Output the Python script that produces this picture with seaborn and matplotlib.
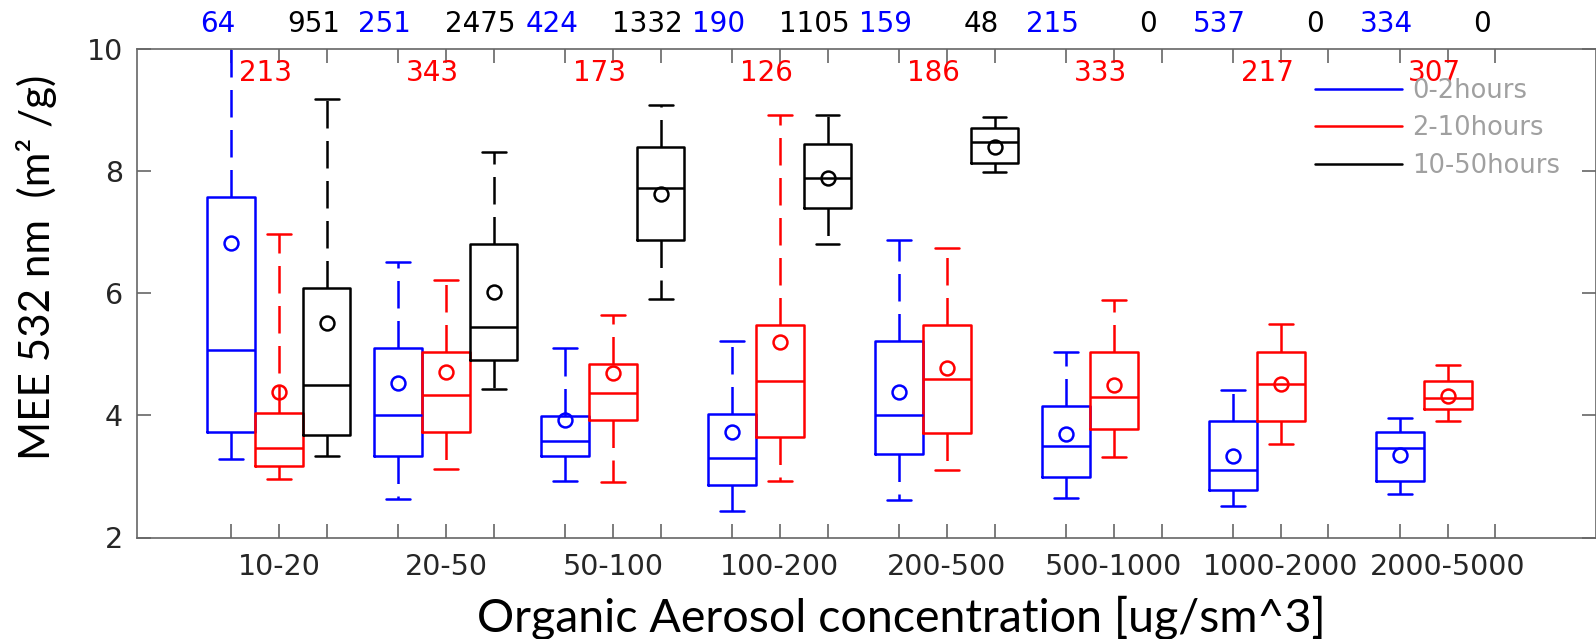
import numpy as np
import pandas as pd
import matplotlib
matplotlib.use('Agg')
import matplotlib.pyplot as plt
from matplotlib.lines import Line2D
import seaborn as sns

# Categories
bins = ["10-20", "20-50", "50-100", "100-200", "200-500", "500-1000", "1000-2000", "2000-5000"]
ages = ["0-2hours", "2-10hours", "10-50hours"]
colors = ["#0000ff", "#ff0000", "#000000"]

# Box statistics (lower whisker, q1, median, q3, upper whisker, mean)
lo_blue = [3.29, 2.63, 2.93, 2.44, 2.61, 2.64, 2.52, 2.72]
q1_blue = [3.73, 3.34, 3.34, 2.86, 3.36, 2.99, 2.77, 2.92]
med_blue = [5.07, 4.00, 3.58, 3.30, 4.00, 3.49, 3.10, 3.46]
q3_blue = [7.58, 5.11, 3.99, 4.02, 5.21, 4.16, 3.91, 3.73]
hi_blue = [10.6, 6.51, 5.10, 5.21, 6.87, 5.03, 4.42, 3.95]
mean_blue = [6.83, 4.53, 3.93, 3.72, 4.38, 3.69, 3.34, 3.35]

lo_red = [2.96, 3.12, 2.91, 2.92, 3.10, 3.31, 3.53, 3.91]
q1_red = [3.17, 3.73, 3.92, 3.64, 3.71, 3.77, 3.90, 4.11]
med_red = [3.46, 4.33, 4.36, 4.56, 4.59, 4.30, 4.51, 4.29]
q3_red = [4.04, 5.04, 4.84, 5.48, 5.48, 5.04, 5.04, 4.57]
hi_red = [6.97, 6.22, 5.64, 8.91, 6.74, 5.89, 5.49, 4.83]
mean_red = [4.38, 4.71, 4.69, 5.20, 4.77, 4.49, 4.52, 4.32]

nan = np.nan
lo_black = [3.34, 4.43, 5.90, 6.81, 7.98, nan, nan, nan]
q1_black = [3.68, 4.90, 6.87, 7.40, 8.13, nan, nan, nan]
med_black = [4.49, 5.44, 7.72, 7.88, 8.48, nan, nan, nan]
q3_black = [6.08, 6.80, 8.39, 8.44, 8.70, nan, nan, nan]
hi_black = [9.18, 8.31, 9.08, 8.92, 8.89, nan, nan, nan]
mean_black = [5.52, 6.02, 7.62, 7.88, 8.40, nan, nan, nan]

# Sample counts per box
n_blue = [64, 251, 424, 190, 159, 215, 537, 334]
n_red = [213, 343, 173, 126, 186, 333, 217, 307]
n_black = [951, 2475, 1332, 1105, 48, 0, 0, 0]

stats = {
    ages[0]: (lo_blue, q1_blue, med_blue, q3_blue, hi_blue),
    ages[1]: (lo_red, q1_red, med_red, q3_red, hi_red),
    ages[2]: (lo_black, q1_black, med_black, q3_black, hi_black),
}
means = {ages[0]: mean_blue, ages[1]: mean_red, ages[2]: mean_black}
counts = {ages[0]: n_blue, ages[1]: n_red, ages[2]: n_black}

# five summary values per box -> quartiles/whiskers come out exactly (whis=inf)
rows = []
for age, cols in stats.items():
    for i, b in enumerate(bins):
        vals = [c[i] for c in cols]
        if np.isnan(vals[0]):
            continue
        for v in vals:
            rows.append({"bin": b, "age": age, "mee": v})
df = pd.DataFrame(rows)

sns.set_theme(style="ticks")
plt.rcParams['font.family'] = ['DejaVu Sans']

W, H = 1596, 639
fig = plt.figure(figsize=(W / 100, H / 100), dpi=100)
ax = fig.add_axes([137 / W, 1 - 537.5 / H, 1458.7 / W, 488.6 / H])

box_w = 6 / 7
lw = 1.8
sns.boxplot(data=df, x="bin", y="mee", hue="age", order=bins, hue_order=ages,
            palette=colors, fill=False, width=box_w, gap=0, whis=np.inf,
            showfliers=False, linewidth=lw, legend=False, ax=ax,
            whiskerprops=dict(linestyle=(0, (11, 5))))

# means as open circles at the dodged positions
step = box_w / len(ages)
for k, age in enumerate(ages):
    xs = np.arange(len(bins)) + (k - 1) * step
    ax.plot(xs, means[age], 'o', mfc='none', mec=colors[k], mew=lw, ms=10, zorder=3)

# counts: blue/black above the frame, red inside
for k, age in enumerate(ages):
    for i, n in enumerate(counts[age]):
        x = i + (k - 1) * step - 0.08
        y = 9.60 if k == 1 else 10.40
        ax.text(x, y, str(n), color=colors[k], ha='center', va='center',
                fontsize=20, clip_on=False)

ax.set_xlim(-0.850, 7.886)
ax.set_ylim(2, 10)
ax.set_yticks([2, 4, 6, 8, 10])

pos = [i + (k - 1) * step for i in range(len(bins)) for k in range(3)]
labels = [bins[i] if k == 1 else "" for i in range(len(bins)) for k in range(3)]
ax.set_xticks(pos)
ax.set_xticklabels(labels)

ax.tick_params(axis='both', direction='in', length=10, width=1.2, color='#666666',
               labelcolor='#262626', labelsize=20.5, top=True, right=True)
ax.tick_params(axis='x', pad=11)
ax.tick_params(axis='y', pad=10)
for s in ax.spines.values():
    s.set_visible(True)
    s.set_color('#666666')
    s.set_linewidth(1.2)

ax.set_xlabel("Organic Aerosol concentration [ug/sm^3]", fontsize=33.5,
              family=['Lato', 'DejaVu Sans'], color='black')
ax.set_ylabel("MEE 532 nm  (m² /g)", fontsize=30.3,
              family=['Lato', 'DejaVu Sans'], color='black')
ax.xaxis.label.set_va('center')
ax.yaxis.label.set_va('center')
ax.xaxis.set_label_coords(0.5238, -0.1648)
ax.yaxis.set_label_coords(-0.0686, 0.552)

handles = [Line2D([], [], color=c, lw=lw) for c in colors]
ax.legend(handles, ages, loc='upper left', bbox_to_anchor=(0.8076, 0.940), frameon=False,
          fontsize=18.5, handlelength=3.38, handletextpad=0.39, labelspacing=0.435,
          borderpad=0, borderaxespad=0, labelcolor='#a0a0a0')

fig.savefig("out.png", dpi=100)
